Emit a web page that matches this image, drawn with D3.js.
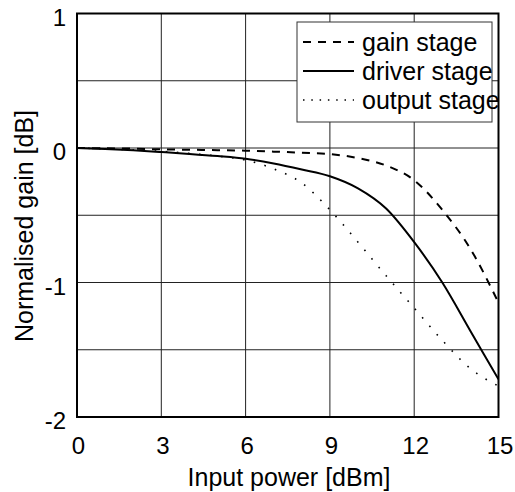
<!DOCTYPE html>
<html><head><meta charset="utf-8">
<script src="https://cdn.jsdelivr.net/npm/d3@7"></script>
<style>
html,body{margin:0;padding:0;background:#fff;}
text{font-family:"Liberation Sans",Arial,sans-serif;fill:#000;}
</style></head>
<body>
<svg id="chart" width="515" height="492"></svg>
<script>
const inputPower = [0,1,2,3,4,5,6,7,8,9,10,11,12,13,14,15];
const gainStage   = [0,-0.002,-0.005,-0.01,-0.013,-0.016,-0.02,-0.027,-0.035,-0.045,-0.075,-0.13,-0.24,-0.46,-0.75,-1.15];
const driverStage = [0,-0.007,-0.017,-0.03,-0.044,-0.06,-0.08,-0.115,-0.16,-0.21,-0.30,-0.45,-0.70,-1.0,-1.36,-1.72];
const outputStage = [0,-0.006,-0.015,-0.025,-0.04,-0.06,-0.09,-0.155,-0.26,-0.46,-0.70,-0.95,-1.19,-1.43,-1.64,-1.77];
const seriesNames = ["gain stage","driver stage","output stage"];
const xTicks = [0,3,6,9,12,15];
const yTicks = [1,0,-1,-2];
const yGrid = [1,0.5,0,-0.5,-1,-1.5,-2];
const xLabel = "Input power [dBm]";
const yLabel = "Normalised gain [dB]";

const svg = d3.select("#chart");
const L = 77, R = 498.5, T = 13.5, B = 417;
const x = d3.scaleLinear().domain([0,15]).range([L,R]);
const y = d3.scaleLinear().domain([-2,1]).range([B,T]);

// grid
const g = svg.append("g");
g.selectAll(".vg").data(xTicks).join("line")
  .attr("x1",d=>x(d)).attr("x2",d=>x(d)).attr("y1",T).attr("y2",B)
  .attr("stroke","#222").attr("stroke-width",1);
g.selectAll(".hg").data(yGrid).join("line")
  .attr("y1",d=>y(d)).attr("y2",d=>y(d)).attr("x1",L).attr("x2",R)
  .attr("stroke","#222").attr("stroke-width",1);

// axes (labels only)
const xAxis = d3.axisBottom(x).tickValues(xTicks).tickSize(0).tickPadding(0).tickFormat(d=>String(d));
const xa = svg.append("g").attr("transform",`translate(0,${B})`).call(xAxis);
xa.select(".domain").remove();
xa.selectAll("text").attr("font-size",24).attr("y",37).attr("dy",0).attr("dx",1)
  .style("font-family","'Liberation Sans',Arial,sans-serif");

const yAxis = d3.axisLeft(y).tickValues(yTicks).tickSize(0).tickPadding(0).tickFormat(d=>String(d));
const ya = svg.append("g").attr("transform",`translate(${L},0)`).call(yAxis);
ya.select(".domain").remove();
ya.selectAll("text").attr("font-size",24).attr("x",-11).attr("dy","0.48em")
  .style("font-family","'Liberation Sans',Arial,sans-serif");

// lines
const data = [gainStage, driverStage, outputStage];
const styles = [
  {dash:"8,7", w:2},
  {dash:null, w:2},
  {dash:"1.6,9.5", w:1.6}
];
const line = d3.line().x((d,i)=>x(inputPower[i])).y(d=>y(d)).curve(d3.curveMonotoneX);
svg.append("clipPath").attr("id","pc").append("rect")
  .attr("x",L).attr("y",T).attr("width",R-L).attr("height",B-T);
data.forEach((s,k)=>{
  svg.append("path").attr("d",line(s)).attr("fill","none").attr("stroke","#000")
    .attr("stroke-width",styles[k].w).attr("stroke-dasharray",styles[k].dash)
    .attr("clip-path","url(#pc)");
});

// frame
svg.append("rect").attr("x",L).attr("y",T).attr("width",R-L).attr("height",B-T)
  .attr("fill","none").attr("stroke","#000").attr("stroke-width",2);

// legend
const lg = svg.append("g");
lg.append("rect").attr("x",297).attr("y",22).attr("width",195).attr("height",100)
  .attr("fill","#fff").attr("stroke","#333").attr("stroke-width",1);
const legY = [42,71,100];
const legStyles = [{dash:"8,7",w:2},{dash:null,w:2},{dash:"1.5,6.8",w:1.5}];
seriesNames.forEach((n,k)=>{
  lg.append("line").attr("x1",303).attr("x2",354).attr("y1",legY[k]).attr("y2",legY[k])
    .attr("stroke","#000").attr("stroke-width",legStyles[k].w).attr("stroke-dasharray",legStyles[k].dash);
  lg.append("text").attr("x",362).attr("y",legY[k]+9).attr("font-size",25).text(n);
});

// axis titles
svg.append("text").attr("x",289).attr("y",485.5).attr("text-anchor","middle")
  .attr("font-size",25).text(xLabel);
svg.append("text").attr("transform","translate(33,226) rotate(-90)").attr("text-anchor","middle")
  .attr("font-size",25).text(yLabel);
</script>
</body></html>
